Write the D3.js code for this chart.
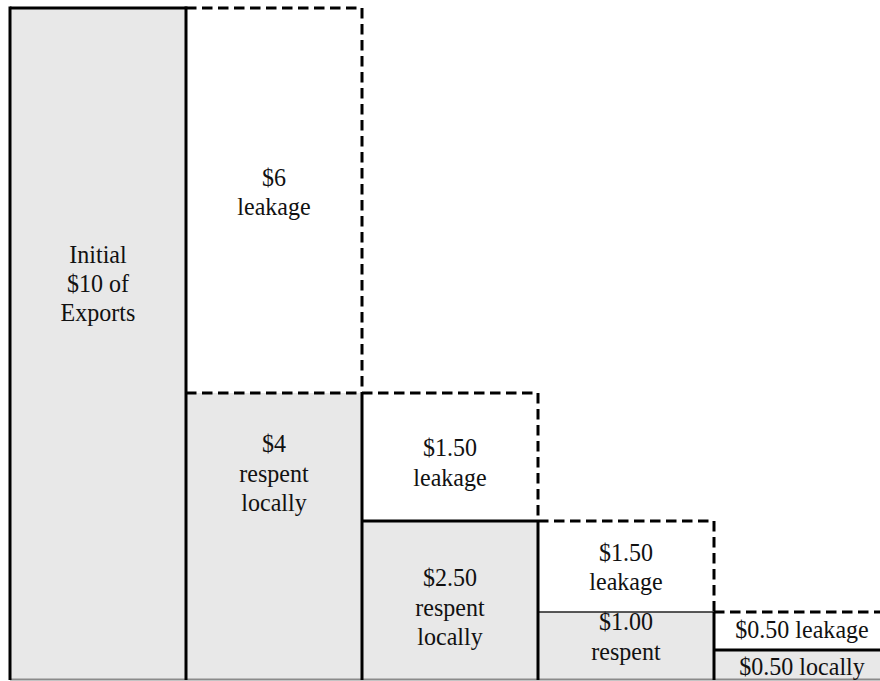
<!DOCTYPE html>
<html>
<head>
<meta charset="utf-8">
<script src="https://cdn.jsdelivr.net/npm/d3@7"></script>
<style>
  html, body { margin: 0; padding: 0; background: #fff; }
  svg { display: block; }
</style>
</head>
<body>
<div id="chart"></div>
<script>
// ---- data ----
const rounds = ["Initial", "Round 1", "Round 2", "Round 3", "Round 4"];
const respentValues = [10, 4, 2.5, 1.0, 0.5];
const leakageValues = [0, 6, 1.5, 1.5, 0.5];
const respentLabels = [
  ["Initial", "$10 of", "Exports"],
  ["$4", "respent", "locally"],
  ["$2.50", "respent", "locally"],
  ["$1.00", "respent"],
  ["$0.50 locally"]
];
const leakageLabels = [
  [],
  ["$6", "leakage"],
  ["$1.50", "leakage"],
  ["$1.50", "leakage"],
  ["$0.50 leakage"]
];
// schematic (non-proportional) value breakpoints of the illustration
const scaleBreaks = [0, 0.5, 1, 2.5, 4, 10];

// ---- layout / style ----
const W = 880, H = 681;
const respentTopStyle = ["solid", "dashed", "solid", "thin", "solid"];
const respentLabelShift = [-61, -64, 6, -10, 1];
const leakageLabelShift = [0, -9, 5, 0, -2];
const lineH = 29.5;
const fill = "#e8e8e8";
const dash = "10.5,5.5";

const svg = d3.select("#chart").append("svg")
  .attr("width", W).attr("height", H);

const x = d3.scaleBand().domain(rounds).range([10, 890]).paddingInner(0).paddingOuter(0);
const y = d3.scaleLinear().domain(scaleBreaks).range([680, 650, 612, 521, 393, 8]);

const cols = rounds.map((r, i) => ({
  r, i,
  x0: x(r), x1: x(r) + x.bandwidth(),
  yB: y(0), yR: y(respentValues[i]), yT: y(respentValues[i] + leakageValues[i])
}));

// fills
svg.selectAll("rect.resp").data(cols).join("rect")
  .attr("class", "resp")
  .attr("x", d => d.x0).attr("width", d => d.x1 - d.x0)
  .attr("y", d => d.yR).attr("height", d => d.yB - d.yR)
  .attr("fill", fill);

// bottom gray edge
svg.append("line")
  .attr("x1", cols[0].x0).attr("x2", W)
  .attr("y1", y(0) - 0.5).attr("y2", y(0) - 0.5)
  .attr("stroke", "#8a8a8a").attr("stroke-width", 2);

// labels
function drawLabel(lines, cx, cy) {
  if (!lines.length) return;
  const g = svg.append("g").attr("transform", `translate(${cx},${cy}) scale(0.925,1)`);
  const t = g.append("text")
    .attr("text-anchor", "middle")
    .attr("font-family", "'Liberation Serif', 'Times New Roman', serif")
    .attr("font-size", 26)
    .attr("fill", "#111");
  const n = lines.length;
  lines.forEach((s, k) => {
    t.append("tspan").attr("x", 0)
      .attr("y", (k - (n - 1) / 2) * lineH + 9)
      .text(s);
  });
}
cols.forEach(d => {
  const cx = (d.x0 + d.x1) / 2;
  drawLabel(respentLabels[d.i], cx, (d.yR + d.yB) / 2 + respentLabelShift[d.i]);
  if (leakageValues[d.i] > 0)
    drawLabel(leakageLabels[d.i], cx, (d.yT + d.yR) / 2 + leakageLabelShift[d.i]);
});

// leakage outlines (dashed top + right)
cols.filter(d => leakageValues[d.i] > 0).forEach(d => {
  svg.append("path")
    .attr("d", `M${d.x0},${d.yT}H${d.x1}V${d.yR}`)
    .attr("fill", "none").attr("stroke", "#000")
    .attr("stroke-width", 3).attr("stroke-dasharray", dash);
});

// respent top edges
cols.forEach(d => {
  const st = respentTopStyle[d.i];
  const l = svg.append("line")
    .attr("x1", d.x0).attr("x2", d.x1)
    .attr("y1", d.yR).attr("y2", d.yR)
    .attr("stroke", st === "thin" ? "#222" : "#000")
    .attr("stroke-width", st === "thin" ? 1.3 : 3);
  if (st === "dashed") l.attr("stroke-dasharray", dash);
});

// respent vertical edges (solid)
cols.forEach(d => {
  svg.append("line")
    .attr("x1", d.x1).attr("x2", d.x1)
    .attr("y1", d.yR - (d.i === 0 ? 1.5 : 0)).attr("y2", d.yB)
    .attr("stroke", "#000").attr("stroke-width", 3);
});
svg.append("line")
  .attr("x1", cols[0].x0).attr("x2", cols[0].x0)
  .attr("y1", cols[0].yR - 1.5).attr("y2", cols[0].yB)
  .attr("stroke", "#000").attr("stroke-width", 3);
</script>
</body>
</html>
